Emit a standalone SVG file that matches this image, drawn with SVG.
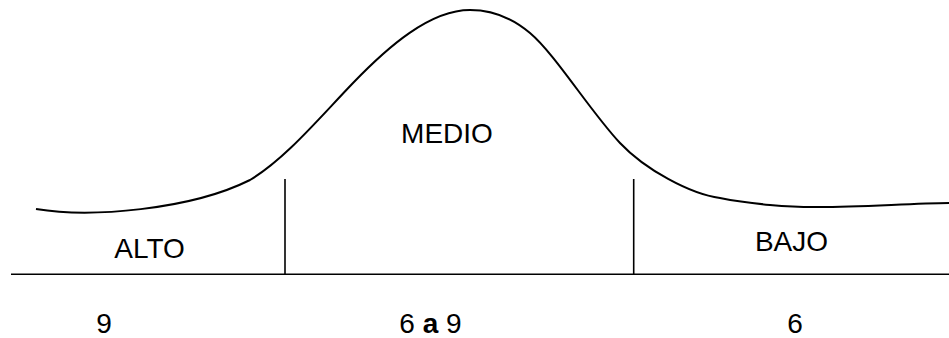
<svg xmlns="http://www.w3.org/2000/svg" width="949" height="338" viewBox="0 0 949 338">
<style>
.ln{fill:none;stroke:#000;stroke-width:1.6}
.cv{fill:none;stroke:#000;stroke-width:2}
.t{font-family:"Liberation Sans",Arial,sans-serif;font-size:28px;fill:#000;text-anchor:middle}
.b{font-weight:bold}
</style>
<rect width="949" height="338" fill="#fff"/>
<g id="connectors">
<path id="curve" class="cv" d="M36,209 C90,218 190,210 250,180 C285,159 318,119.4 353,83 C388,46.6 430,10 470,10 C490,10 510,16 530,33 C555,54 590,111 620,143 C645,169.5 690,194 720,198 C750,204 790,207.5 820,207 C860,207 910,203.5 949,203"/>
<line id="baseline" class="ln" x1="11" y1="274.3" x2="949" y2="274.3"/>
<line id="div-left" class="ln" x1="285" y1="179" x2="285" y2="274.3"/>
<line id="div-right" class="ln" x1="633.7" y1="179" x2="633.7" y2="274.3"/>
</g>
<g id="alto"><text class="t" x="149.5" y="258">ALTO</text></g>
<g id="medio"><text class="t" x="447" y="143">MEDIO</text></g>
<g id="bajo"><text class="t" x="791.5" y="251">BAJO</text></g>
<g id="val-alto"><text class="t" x="104" y="333">9</text></g>
<g id="val-medio"><text class="t" x="430.5" y="333">6 <tspan class="b">a</tspan> 9</text></g>
<g id="val-bajo"><text class="t" x="795" y="333">6</text></g>
</svg>
